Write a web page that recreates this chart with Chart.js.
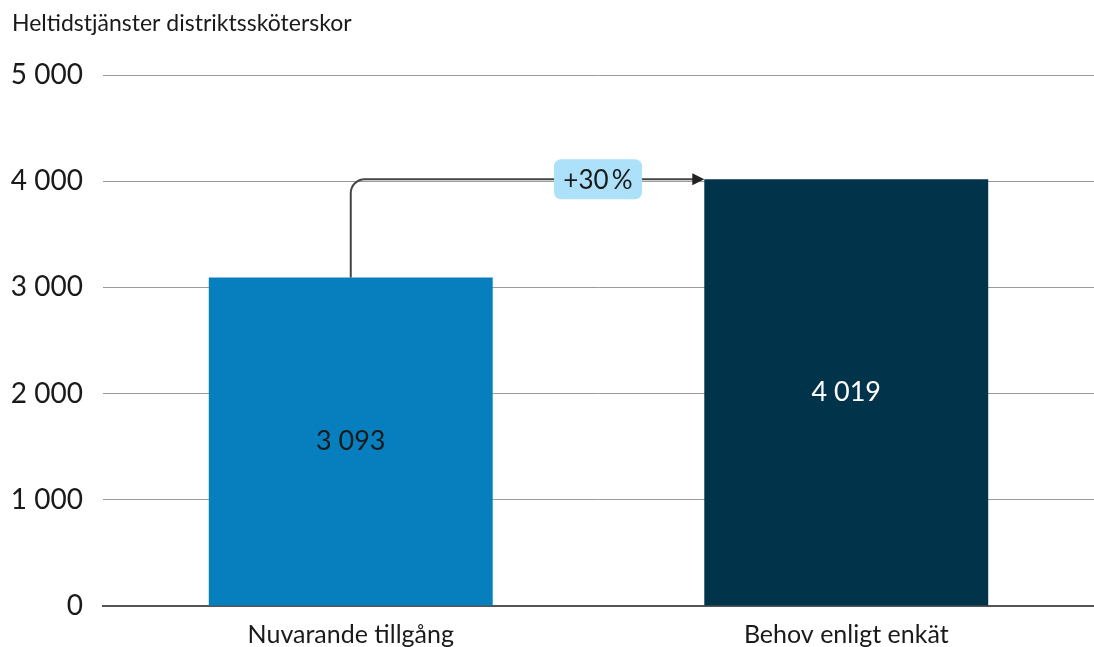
<!DOCTYPE html>
<html><head><meta charset="utf-8">
<script src="https://cdn.jsdelivr.net/npm/chart.js@4/dist/chart.umd.min.js"></script>
<style>html,body{margin:0;padding:0;background:#fff}#wrap{width:1094px;height:647px}</style>
</head><body><div id="wrap"><canvas id="c" width="1094" height="647"></canvas></div>
<script>
const categories = ["Nuvarande tillgång", "Behov enligt enkät"];
const values = [3093, 4019];
const valueLabels = ["3 093", "4 019"];
const changeLabel = "+30\u2009%";
const yTicks = [0, 1000, 2000, 3000, 4000, 5000];
const yTickLabels = ["0", "1 000", "2 000", "3 000", "4 000", "5 000"];
const yTitle = "Heltidstjänster distriktssköterskor";
const barColors = ["#077fbf", "#01334b"];
const labelColors = ["#1a1a1a", "#ffffff"];
const FONT = "Lato, 'Liberation Sans', sans-serif";

const overlay = {
  id: 'overlay',
  afterDraw(chart) {
    const ctx = chart.ctx;
    const y = chart.scales.y;
    const meta = chart.getDatasetMeta(0);
    ctx.save();
    // title
    ctx.fillStyle = '#1a1a1a';
    ctx.font = '23px ' + FONT;
    ctx.textAlign = 'left';
    ctx.textBaseline = 'middle';
    ctx.fillText(yTitle, 12, 24);
    // value labels
    ctx.font = '27px ' + FONT;
    ctx.textAlign = 'center';
    meta.data.forEach((b, i) => {
      ctx.fillStyle = labelColors[i];
      const base = y.getPixelForValue(0);
      ctx.fillText(valueLabels[i], b.x, (b.y + base) / 2);
    });
    // arrow
    const b0 = meta.data[0], b1 = meta.data[1];
    const x0 = b0.x, yStart = b0.y, yEnd = y.getPixelForValue(values[1]);
    const xEnd = b1.x - b1.width / 2;
    const r = 14;
    ctx.strokeStyle = '#444';
    ctx.lineWidth = 2;
    ctx.beginPath();
    ctx.moveTo(x0, yStart);
    ctx.lineTo(x0, yEnd + r);
    ctx.arcTo(x0, yEnd, x0 + r, yEnd, r);
    ctx.lineTo(xEnd - 10, yEnd);
    ctx.stroke();
    ctx.fillStyle = '#222';
    ctx.beginPath();
    ctx.moveTo(xEnd, yEnd);
    ctx.lineTo(xEnd - 12, yEnd - 6);
    ctx.lineTo(xEnd - 12, yEnd + 6);
    ctx.closePath();
    ctx.fill();
    // badge
    const cx = 598, bw = 88, bh = 40;
    ctx.fillStyle = '#ade1f9';
    ctx.beginPath();
    ctx.roundRect(cx - bw / 2, yEnd - bh / 2, bw, bh, 7);
    ctx.fill();
    ctx.fillStyle = '#1a1a1a';
    ctx.font = '26px ' + FONT;
    ctx.textAlign = 'center';
    ctx.fillText(changeLabel, cx, yEnd + 1);
    ctx.restore();
  }
};

new Chart(document.getElementById('c'), {
  type: 'bar',
  data: {
    labels: categories,
    datasets: [{ data: values, backgroundColor: barColors, barPercentage: 0.573, categoryPercentage: 1 }]
  },
  options: {
    responsive: false,
    animation: false,
    layout: { padding: { top: 75, left: 0, right: 0, bottom: 0 } },
    plugins: { legend: { display: false }, tooltip: { enabled: false } },
    scales: {
      x: {
        grid: { display: false, drawTicks: false },
        border: { color: '#555', width: 2 },
        ticks: { color: '#1a1a1a', font: { family: FONT, size: 25 }, padding: 14 },
        afterFit(a) { a.height = 41; }
      },
      y: {
        min: 0, max: 5000,
        afterBuildTicks(a) { a.ticks = yTicks.map(v => ({ value: v })); },
        grid: { color: (c) => c.tick.value === 0 ? 'rgba(0,0,0,0)' : '#9a9a9a', lineWidth: 1, drawTicks: false },
        border: { display: false },
        ticks: {
          color: '#1a1a1a', font: { family: FONT, size: 28 }, padding: 20,
          callback: (v) => yTickLabels[yTicks.indexOf(v)]
        },
        afterFit(a) { a.width = 103; }
      }
    }
  },
  plugins: [overlay]
});
</script></body></html>
